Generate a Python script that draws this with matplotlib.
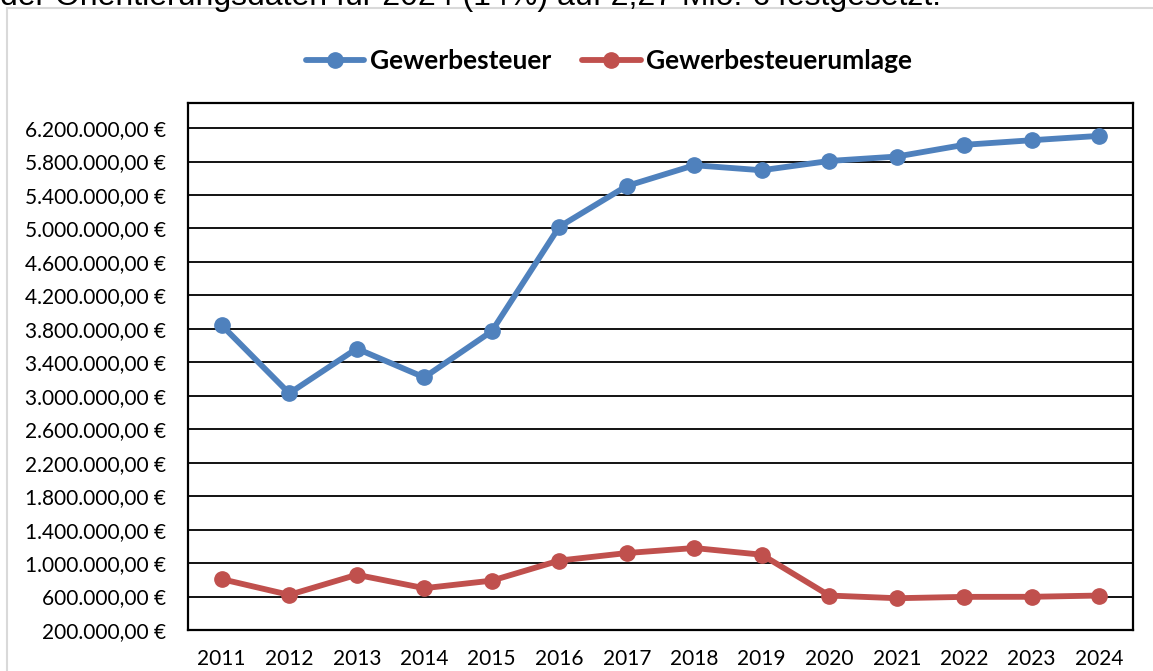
import matplotlib
matplotlib.use("Agg")
import matplotlib.pyplot as plt
from matplotlib.patches import Rectangle
from matplotlib.ticker import FuncFormatter

# Data
years = ["2011", "2012", "2013", "2014", "2015", "2016", "2017",
         "2018", "2019", "2020", "2021", "2022", "2023", "2024"]
gewerbesteuer = [3843000, 3029000, 3564000, 3220000, 3771000, 5020000, 5508000,
                 5756000, 5696000, 5807000, 5860000, 6000000, 6055000, 6107000]
umlage = [808000, 620000, 860000, 700000, 790000, 1030000, 1120000,
          1180000, 1100000, 612000, 580000, 596000, 597000, 612000]
y_ticks = list(range(200000, 6200001, 400000))
header = "der Orientierungsdaten für 2024 (14%) auf 2,27 Mio. € festgesetzt."

BLUE = "#4F81BD"
RED = "#C0504D"
W, H = 1153, 671


def euro(v, _pos=None):
    s = f"{v:,.2f}".replace(",", "X").replace(".", ",").replace("X", ".")
    return s + " €"


fig = plt.figure(figsize=(W / 100, H / 100), dpi=100)

# sentence above the chart (cropped in the source) and the chart frame
fig.text(0, 1 - 5 / H, header, fontsize=23, family="Liberation Sans",
         ha="left", va="baseline", color="black")
fig.patches.append(Rectangle((7 / W, -0.01), 1.0, 1 - 8 / H + 0.01,
                             transform=fig.transFigure, fill=False,
                             edgecolor="#d9d9d9", linewidth=1.5))

ax = fig.add_axes([188 / W, 1 - 630 / H, (1133 - 188) / W, (630 - 103) / H])
x = range(len(years))
ax.plot(x, gewerbesteuer, color=BLUE, lw=4.2, marker="o", ms=11,
        label="Gewerbesteuer", solid_capstyle="round")
ax.plot(x, umlage, color=RED, lw=4.2, marker="o", ms=11,
        label="Gewerbesteuerumlage", solid_capstyle="round")

ax.set_xlim(-0.5, len(years) - 0.5)
ax.set_ylim(200000, 6500000)
ax.set_xticks(list(x))
ax.set_xticklabels(years)
ax.set_yticks(y_ticks)
ax.yaxis.set_major_formatter(FuncFormatter(euro))
ax.grid(axis="y", color="black", lw=1.3)
ax.set_axisbelow(True)
for sp in ax.spines.values():
    sp.set_color("black")
    sp.set_linewidth(1.6)
ax.tick_params(length=0, labelsize=15)
ax.tick_params(axis="x", pad=14)
ax.tick_params(axis="y", pad=16)
for lbl in ax.get_xticklabels() + ax.get_yticklabels():
    lbl.set_family("Lato")

leg = fig.legend(loc="center", bbox_to_anchor=(609 / W, 1 - 61 / H), ncol=2,
                 frameon=False, prop={"family": "Lato", "weight": "bold", "size": 19},
                 handlelength=2.2, columnspacing=1.2, handletextpad=0.2)

fig.savefig("out.png", dpi=100)
